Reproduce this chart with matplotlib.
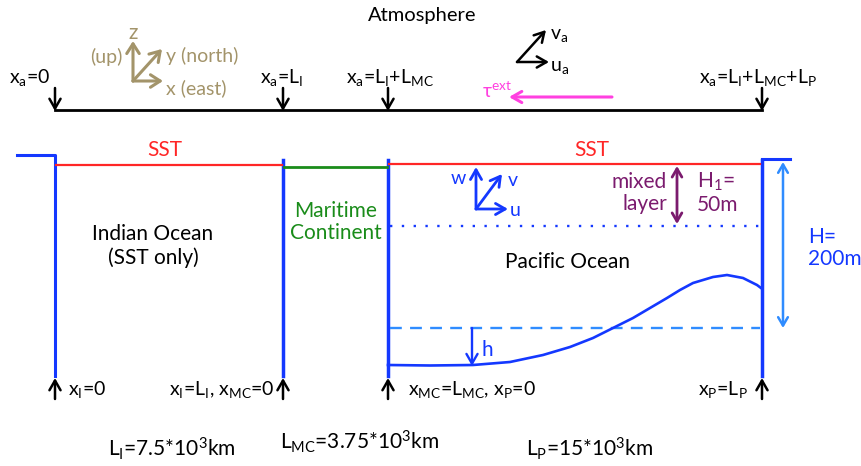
import matplotlib
matplotlib.use("Agg")
import matplotlib.pyplot as plt

plt.rcParams['font.family'] = ['Lato', 'DejaVu Sans']
plt.rcParams['mathtext.default'] = 'regular'

# section labels and sizes
atm_labels = ['$x_a$=0', '$x_a$=$L_I$', '$x_a$=$L_I$+$L_{MC}$', '$x_a$=$L_I$+$L_{MC}$+$L_P$']
bottom_labels = ['$x_I$=0', '$x_I$=$L_I$, $x_{MC}$=0', '$x_{MC}$=$L_{MC}$, $x_P$=0', '$x_P$=$L_P$']
length_labels = ['$L_I$=7.5*10$^3$km', '$L_{MC}$=3.75*10$^3$km', '$L_P$=15*10$^3$km']
wall_x = [55, 283, 388, 762]

# thermocline depth across the Pacific
thermo_x = [388, 430, 473, 510, 543, 570, 593, 613, 633, 650, 667, 680, 693, 713, 727, 743, 757, 761]
thermo_y = [365, 365.5, 365, 362, 355, 347, 338, 328, 318, 308, 298, 290, 283, 277, 275, 278, 285, 288]

BLUE = '#1438ff'
LBLUE = '#2f8cff'
RED = '#ff2626'
GREEN = '#1a8c1a'
PURPLE = '#7b1b6e'
TAN = '#a3946a'
PINK = '#ff40e0'

fig = plt.figure(figsize=(8.62, 4.66), dpi=100)
ax = fig.add_axes([0, 0, 1, 1])
ax.set_xlim(0, 862)
ax.set_ylim(466, 0)
ax.axis('off')


def arrow(x0, y0, x1, y1, color, lw=1.8, style='->', hw=0.4, hl=0.7):
    ax.annotate('', xy=(x1, y1), xytext=(x0, y0),
                arrowprops=dict(arrowstyle='%s,head_width=%s,head_length=%s' % (style, hw, hl),
                                color=color, lw=lw, shrinkA=0, shrinkB=0))


# atmosphere
ax.text(422, 15, 'Atmosphere', fontsize=14.5, ha='center', va='center')
ax.plot([55, 762], [110, 110], color='black', lw=2)
atm_text_x = [30, 282, 390, 758]
for x, lab, tx in zip(wall_x, atm_labels, atm_text_x):
    arrow(x, 88, x, 111, 'black', lw=1.8)
    ax.text(tx, 77, lab, fontsize=14, ha='center', va='center')

# coordinate system
arrow(133, 81, 133, 41, TAN, lw=2.2, hw=0.45)
arrow(133, 81, 163, 81, TAN, lw=2.2, hw=0.45)
arrow(133, 81, 162, 49, TAN, lw=2.2, hw=0.45)
ax.text(133, 33, 'z', color=TAN, fontsize=15, ha='center', va='center')
ax.text(106, 57, '(up)', color=TAN, fontsize=14, ha='center', va='center')
ax.text(166, 56, 'y (north)', color=TAN, fontsize=14, ha='left', va='center')
ax.text(166, 88, 'x (east)', color=TAN, fontsize=14, ha='left', va='center')

# atmospheric wind vectors
arrow(517, 62, 549, 62, 'black', lw=1.8)
arrow(517, 62, 546, 30, 'black', lw=1.8)
ax.text(550, 36, '$v_a$', fontsize=14, ha='left', va='center')
ax.text(550, 68, '$u_a$', fontsize=14, ha='left', va='center')

# external stress
arrow(612, 97, 509, 97, PINK, lw=2.2)
ax.text(497, 91, r'$\tau^{ext}$', color=PINK, fontsize=14, ha='center', va='center')

# ocean walls
ax.plot([17, 55, 55], [155, 155, 376], color=BLUE, lw=2.2)
for x in wall_x[1:]:
    ax.plot([x, x], [160, 376], color=BLUE, lw=2.5)
ax.plot([762, 790], [159, 159], color=BLUE, lw=2.2)

# SST lines
ax.plot([56, 282], [165, 165], color=RED, lw=1.6)
ax.plot([284, 387], [167, 167], color=GREEN, lw=2)
ax.plot([389, 760], [164, 164], color=RED, lw=1.6)
ax.text(165, 150, 'SST', color=RED, fontsize=15, ha='center', va='center')
ax.text(592, 150, 'SST', color=RED, fontsize=15, ha='center', va='center')

# Pacific layers
ax.plot([390, 760], [226, 226], color=BLUE, lw=1.7, ls=(0, (1, 4)))
ax.plot([390, 760], [328, 328], color=LBLUE, lw=1.7, ls=(0, (5, 3.5)))
ax.plot(thermo_x, thermo_y, color=BLUE, lw=1.9, solid_joinstyle='round')
arrow(472, 328, 472, 366, BLUE, lw=1.7)
ax.text(482, 350, 'h', color=BLUE, fontsize=15, ha='left', va='center')

# ocean current vectors
arrow(476, 209, 476, 167, BLUE, lw=2)
arrow(476, 209, 508, 209, BLUE, lw=2)
arrow(476, 209, 502, 174, BLUE, lw=2)
ax.text(458, 178, 'w', color=BLUE, fontsize=14, ha='center', va='center')
ax.text(508, 180, 'v', color=BLUE, fontsize=14, ha='left', va='center')
ax.text(510, 211, 'u', color=BLUE, fontsize=14, ha='left', va='center')

# mixed layer
ax.annotate('', xy=(677, 224), xytext=(677, 166),
            arrowprops=dict(arrowstyle='<->,head_width=0.35,head_length=0.6', color=PURPLE, lw=2,
                            shrinkA=0, shrinkB=0))
ax.text(667, 193, 'mixed\nlayer', color=PURPLE, fontsize=15, ha='right', va='center', linespacing=1.1)
ax.text(697, 193, '$H_1$=\n50m', color=PURPLE, fontsize=15, ha='left', va='center', linespacing=1.1)

# total depth
ax.annotate('', xy=(783, 328), xytext=(783, 162),
            arrowprops=dict(arrowstyle='<->,head_width=0.35,head_length=0.6', color=LBLUE, lw=1.8,
                            shrinkA=0, shrinkB=0))
ax.text(808, 248, 'H=\n200m', color=BLUE, fontsize=15, ha='left', va='center', linespacing=1.15)

# basin names
ax.text(153, 246, 'Indian Ocean\n(SST only)', fontsize=15, ha='center', va='center', linespacing=1.15)
ax.text(336, 222, 'Maritime\nContinent', color=GREEN, fontsize=15, ha='center', va='center', linespacing=1.1)
ax.text(568, 262, 'Pacific Ocean', fontsize=15, ha='center', va='center')

# bottom coordinates
bot_text = [(68, 'left'), (275, 'right'), (408, 'left'), (748, 'right')]
for x, lab, (tx, ha) in zip(wall_x, bottom_labels, bot_text):
    arrow(x, 399, x, 378, 'black', lw=1.8)
    ax.text(tx, 389, lab, fontsize=14, ha=ha, va='center')

for x, y, lab in zip([172, 359, 590], [449, 442, 449], length_labels):
    ax.text(x, y, lab, fontsize=15, ha='center', va='center')

fig.savefig('out.png', dpi=100)
